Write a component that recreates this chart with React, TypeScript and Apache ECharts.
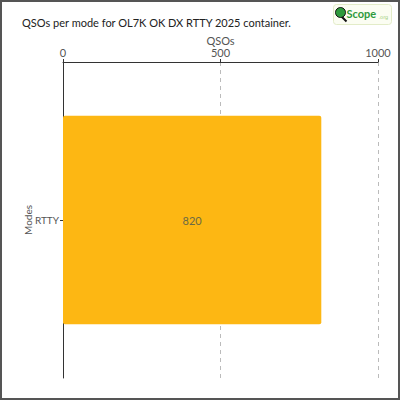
import { useEffect, useRef } from "react";
import * as echarts from "echarts";

const modes = ["RTTY"];
const qsoCounts = [820];
const axisTicks = { min: 0, max: 1000, interval: 500 };

const TITLE = "QSOs per mode for OL7K OK DX RTTY 2025 container.";
const FONT = "Lato, 'DejaVu Sans', sans-serif";

export default function App() {
  const containerRef = useRef<HTMLDivElement | null>(null);

  useEffect(() => {
    if (!containerRef.current) {
      return;
    }

    const chart = echarts.init(containerRef.current, null, { renderer: "svg" });

    const option: echarts.EChartsOption = {
      animation: false,
      backgroundColor: "#ffffff",
      textStyle: {
        fontFamily: FONT,
      },
      title: {
        text: TITLE,
        left: 15,
        top: 10,
        textStyle: {
          fontFamily: FONT,
          fontSize: 11,
          fontWeight: "normal",
          color: "#222",
        },
      },
      graphic: [
        {
          type: "group",
          left: 331,
          top: 2,
          children: [
            {
              type: "rect",
              shape: { x: 0, y: 0, width: 58, height: 20, r: 3 },
              style: { fill: "#fbfdf2", stroke: "#e3ecc8", lineWidth: 1 },
            },
            {
              type: "line",
              shape: { x1: 8, y1: 12, x2: 13, y2: 17 },
              style: { stroke: "#111", lineWidth: 2 },
            },
            {
              type: "circle",
              shape: { cx: 7, cy: 8, r: 5 },
              style: { fill: "#2e9a3c", stroke: "#111", lineWidth: 1 },
            },
            {
              type: "text",
              x: 13,
              y: 3,
              style: {
                text: "Scope",
                fill: "#2e9a3c",
                font: "bold 11px Lato, sans-serif",
              },
            },
            {
              type: "text",
              x: 45,
              y: 10,
              style: {
                text: ".org",
                fill: "#9ccf7a",
                font: "5px 'DejaVu Sans', sans-serif",
              },
            },
          ],
        },
      ],
      grid: {
        left: 61,
        right: 20,
        top: 60,
        bottom: 20,
        containLabel: false,
      },
      xAxis: {
        type: "value",
        position: "top",
        min: axisTicks.min,
        max: axisTicks.max,
        interval: axisTicks.interval,
        name: "QSOs",
        nameLocation: "middle",
        nameGap: 16,
        nameMoveOverlap: false,
        nameTextStyle: {
          color: "#555",
          fontSize: 11,
          fontFamily: FONT,
        },
        axisLine: {
          show: true,
          lineStyle: { color: "#333", width: 1 },
        },
        axisTick: {
          show: true,
          length: 3,
          lineStyle: { color: "#333" },
        },
        axisLabel: {
          color: "#555",
          fontSize: 11,
          margin: 4,
          fontFamily: FONT,
          formatter: (value: number) => String(value),
        },
        splitLine: {
          show: true,
          lineStyle: { color: "#bbb", type: [4, 4] },
        },
      },
      yAxis: {
        type: "category",
        data: modes,
        inverse: true,
        name: "Modes",
        nameLocation: "middle",
        nameGap: 30,
        nameMoveOverlap: false,
        nameTextStyle: {
          color: "#555",
          fontSize: 10,
          fontFamily: FONT,
        },
        axisLine: {
          show: true,
          lineStyle: { color: "#333", width: 1 },
        },
        axisTick: {
          show: true,
          length: 3,
          alignWithLabel: true,
          lineStyle: { color: "#333" },
        },
        axisLabel: {
          color: "#555",
          fontSize: 10,
          margin: 4,
          fontFamily: FONT,
        },
        splitLine: {
          show: false,
        },
      },
      series: [
        {
          type: "bar",
          data: qsoCounts,
          barWidth: "66%",
          itemStyle: {
            color: "#fdb713",
            borderRadius: 2,
          },
          label: {
            show: true,
            position: "inside",
            color: "#6b6a45",
            fontSize: 11,
            fontFamily: FONT,
          },
        },
      ],
    };

    chart.setOption(option);

    return () => {
      chart.dispose();
    };
  }, []);

  return (
    <div
      style={{
        position: "fixed",
        left: 0,
        top: 0,
        width: 400,
        height: 400,
        boxSizing: "border-box",
        border: "2px solid #555",
        background: "#fff",
      }}
    >
      <div ref={containerRef} style={{ width: 396, height: 396 }} />
    </div>
  );
}
